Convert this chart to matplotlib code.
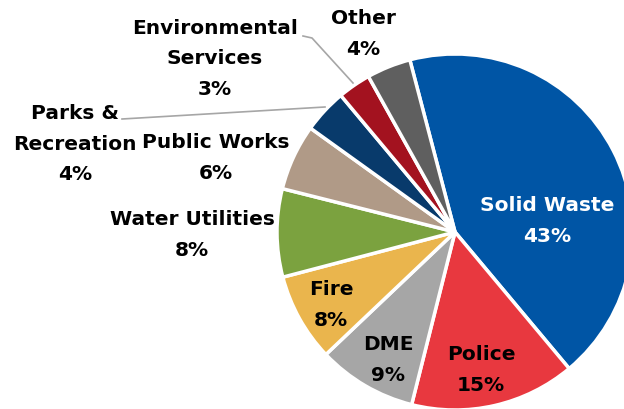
import matplotlib
matplotlib.use("Agg")
import matplotlib.pyplot as plt

# ── Data ─────────────────────────────────────────────
departments = ["Solid Waste", "Police", "DME", "Fire", "Water Utilities",
               "Public Works", "Parks &\nRecreation", "Environmental\nServices", "Other"]
shares = [43, 15, 9, 8, 8, 6, 4, 3, 4]
colors = ["#0055A5", "#E8383F", "#A6A6A6", "#EAB54D", "#7BA23F",
          "#B09A87", "#083A6B", "#A3121F", "#5F5F5F"]
label_colors = ["white", "black", "black", "black", "black",
                "black", "black", "black", "black"]

W, H = 624, 409
# label centres in image pixels (x, y from top)
label_pos = [(547, 221), (481, 370), (388, 360), (331, 305), (192, 235),
             (216, 158), (75, 144), (215, 59), (363, 34)]

fig = plt.figure(figsize=(W / 100, H / 100), dpi=100)
ax = fig.add_axes([0, 0, 1, 1])

ax.pie(shares, colors=colors, startangle=104.7, counterclock=False,
       center=(455, H - 232), radius=178,
       wedgeprops=dict(edgecolor="white", linewidth=2.5))
ax.set_xlim(0, W)
ax.set_ylim(0, H)
ax.set_aspect("equal")
ax.axis("off")

for name, val, (x, y), c in zip(departments, shares, label_pos, label_colors):
    ax.text(x, H - y, f"{name}\n{val}%", ha="center", va="center",
            color=c, fontsize=14.5, fontweight="bold", family="DejaVu Sans",
            linespacing=1.75)

# leader lines
ax.plot([303, 312, 353], [H - 36, H - 38, H - 83], color="#A6A6A6", lw=1.2)
ax.plot([122, 325], [H - 119, H - 107], color="#A6A6A6", lw=1.2)

fig.savefig("out.png", dpi=100, facecolor="white")
